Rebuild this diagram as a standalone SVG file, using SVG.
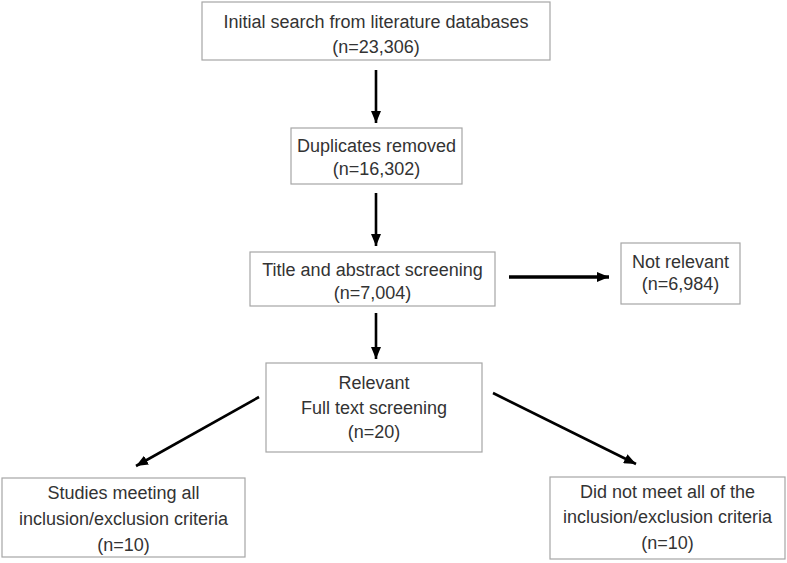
<svg xmlns="http://www.w3.org/2000/svg" width="787" height="563" viewBox="0 0 787 563">
<style>
.box{fill:#ffffff;stroke:#a6a6a6;stroke-width:1.2}
.t{font-family:"Liberation Sans",Arial,sans-serif;font-size:18px;fill:#333333;text-anchor:middle}
.c{stroke:#000;stroke-width:2.6;fill:none;marker-end:url(#ah)}
.thick{stroke-width:3.6}
</style>
<defs>
<marker id="ah" markerUnits="userSpaceOnUse" markerWidth="12" markerHeight="10" viewBox="0 0 12 10" refX="12" refY="5" orient="auto">
<path d="M0,0 L12,5 L0,10 z" fill="#000"/>
</marker>
</defs>
<rect width="787" height="563" fill="#ffffff"/>
<g id="connectors">
<line class="c" x1="376" y1="70" x2="376" y2="123"/>
<line class="c" x1="376" y1="193" x2="376" y2="246"/>
<line class="c thick" x1="509" y1="277" x2="609" y2="277"/>
<line class="c" x1="376" y1="313" x2="376" y2="359"/>
<line class="c" x1="259" y1="397" x2="136" y2="466"/>
<line class="c" x1="493" y1="393" x2="636" y2="464"/>
</g>
<g id="n1">
<rect class="box" x="202" y="2" width="348" height="58"/>
<text class="t" x="376" y="28">Initial search from literature databases</text>
<text class="t" x="376" y="53">(n=23,306)</text>
</g>
<g id="n2">
<rect class="box" x="291" y="128" width="171" height="56"/>
<text class="t" x="376.5" y="152">Duplicates removed</text>
<text class="t" x="376.5" y="175">(n=16,302)</text>
</g>
<g id="n3">
<rect class="box" x="250" y="252" width="245" height="54"/>
<text class="t" x="372.5" y="276">Title and abstract screening</text>
<text class="t" x="372.5" y="299">(n=7,004)</text>
</g>
<g id="n4">
<rect class="box" x="621" y="243" width="119" height="61"/>
<text class="t" x="680.5" y="268">Not relevant</text>
<text class="t" x="680.5" y="290">(n=6,984)</text>
</g>
<g id="n5">
<rect class="box" x="266" y="363" width="216" height="89"/>
<text class="t" x="374" y="389">Relevant</text>
<text class="t" x="374" y="414">Full text screening</text>
<text class="t" x="374" y="438">(n=20)</text>
</g>
<g id="n6">
<rect class="box" x="2" y="478" width="243" height="79"/>
<text class="t" x="123.5" y="499">Studies meeting all</text>
<text class="t" x="123.5" y="525">inclusion/exclusion criteria</text>
<text class="t" x="123.5" y="551">(n=10)</text>
</g>
<g id="n7">
<rect class="box" x="550" y="477" width="235" height="82"/>
<text class="t" x="667.5" y="498">Did not meet all of the</text>
<text class="t" x="667.5" y="523">inclusion/exclusion criteria</text>
<text class="t" x="667.5" y="549">(n=10)</text>
</g>
</svg>
